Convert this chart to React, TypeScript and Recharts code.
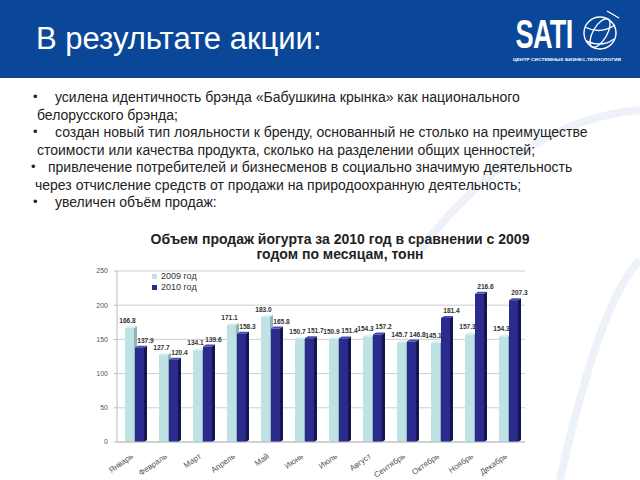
import React from 'react';
import {
  BarChart,
  Bar,
  XAxis,
  YAxis,
  CartesianGrid,
  Legend,
  LabelList,
} from 'recharts';

const months = [
  'Январь', 'Февраль', 'Март', 'Апрель', 'Май', 'Июнь',
  'Июль', 'Август', 'Сентябрь', 'Октябрь', 'Ноябрь', 'Декабрь',
];
const sales2009 = [166.8, 127.7, 134.1, 171.1, 183.0, 150.7, 150.9, 154.3, 145.7, 145.1, 157.3, 154.3];
const sales2010 = [137.9, 120.4, 139.6, 158.3, 165.8, 151.7, 151.4, 157.2, 146.8, 181.4, 216.6, 207.3];
const yTicks = [0, 50, 100, 150, 200, 250];

const bullets = [
  { bx: 33, lines: [
    { x: 55, text: 'усилена идентичность брэнда «Бабушкина крынка» как национального' },
    { x: 37, text: 'белорусского брэнда;' },
  ] },
  { bx: 33, lines: [
    { x: 55, text: 'создан новый тип лояльности к бренду, основанный не столько на преимуществе' },
    { x: 37, text: 'стоимости или качества продукта, сколько на разделении общих ценностей;' },
  ] },
  { bx: 31, lines: [
    { x: 48, text: 'привлечение потребителей и бизнесменов в социально значимую деятельность' },
    { x: 35, text: 'через отчисление средств от продажи на природоохранную деятельность;' },
  ] },
  { bx: 33, lines: [
    { x: 55, text: 'увеличен объём продаж:' },
  ] },
];

const data = months.map((m, i) => ({ month: m, y2009: sales2009[i], y2010: sales2010[i] }));

const FONT = '"Liberation Sans", Arial, sans-serif';

// bar with a little fake depth on the right and top, like the old excel 3d columns
function Bar3D(props: any) {
  const { x, y, width, height, front, side, top } = props;
  if (height <= 0) return null;
  const d = 3;
  const r = 2;
  return (
    <g>
      <path d={`M${x + width},${y} l${d},${-r} v${height} l${-d},${r} z`} fill={side} />
      <path d={`M${x},${y} l${d},${-r} h${width} l${-d},${r} z`} fill={top} />
      <rect x={x} y={y} width={width} height={height} fill={front} />
    </g>
  );
}

const valueLabel = (dx: number) => (props: any) => {
  const { x, y, width, value } = props;
  return (
    <text
      x={x + width / 2 + dx}
      y={y - 5}
      textAnchor="middle"
      fontSize={6.6}
      fontWeight="bold"
      fill="#333"
      fontFamily={FONT}
    >
      {Number(value).toFixed(1)}
    </text>
  );
};

function MonthTick(props: any) {
  const { x, y, payload } = props;
  const tx = x - 2;
  const ty = y + 5;
  return (
    <text
      x={tx}
      y={ty}
      dy={3}
      textAnchor="end"
      fontSize={8}
      fill="#555"
      fontFamily={FONT}
      transform={`rotate(-35 ${tx} ${ty})`}
    >
      {payload.value}
    </text>
  );
}

function Logo() {
  return (
    <svg width={125} height={70} style={{ position: 'absolute', left: 508, top: 8 }}>
      <text
        x={11}
        y={40}
        fontFamily={FONT}
        fontWeight="bold"
        fontSize={40}
        fill="#fff"
        transform="scale(0.68 1)"
        letterSpacing={-1}
      >
        SATI
      </text>
      <g fill="none" stroke="#fff" strokeWidth={1.4}>
        <circle cx={92} cy={25} r={16} />
        <ellipse cx={92} cy={25} rx={7} ry={16} transform="rotate(30 92 25)" />
        <path d="M77 19 Q92 27 107 17" />
        <path d="M78 33 Q94 40 106 31" />
        <path d="M99 3 L111 10" />
      </g>
      <text x={5} y={53} fontFamily={FONT} fontWeight="bold" fontSize={4.4} fill="#fff" textLength={108} lengthAdjust="spacingAndGlyphs">
        ЦЕНТР СИСТЕМНЫХ БИЗНЕС-ТЕХНОЛОГИЙ
      </text>
    </svg>
  );
}

export default function App() {
  let lineY = 88;
  return (
    <div
      style={{
        position: 'absolute',
        left: 0,
        top: 0,
        width: 640,
        height: 480,
        overflow: 'hidden',
        background: '#fff',
        fontFamily: FONT,
      }}
    >
      <svg width={640} height={480} style={{ position: 'absolute', left: 0, top: 0 }}>
        <g fill="none" stroke="#edf2f9" strokeWidth={8}>
          <path d="M420 250 Q520 120 640 110" />
          <path d="M560 480 Q600 300 640 260" />
        </g>
      </svg>

      <div style={{ position: 'absolute', left: 0, top: 0, width: 640, height: 78, background: '#0b4799' }} />
      <div
        style={{
          position: 'absolute',
          left: 36,
          top: 22,
          fontSize: 31,
          color: '#fff',
          whiteSpace: 'nowrap',
          lineHeight: '34px',
        }}
      >
        В результате акции:
      </div>
      <Logo />

      {bullets.map((b, bi) =>
        b.lines.map((ln, li) => {
          const top = lineY;
          lineY += 17.5;
          return (
            <React.Fragment key={`${bi}-${li}`}>
              {li === 0 && (
                <div style={{ position: 'absolute', left: b.bx, top, fontSize: 13, color: '#222', lineHeight: '18px' }}>
                  •
                </div>
              )}
              <div
                style={{
                  position: 'absolute',
                  left: ln.x,
                  top,
                  fontSize: 14,
                  color: '#222',
                  whiteSpace: 'nowrap',
                  lineHeight: '18px',
                }}
              >
                {ln.text}
              </div>
            </React.Fragment>
          );
        })
      )}

      <div
        style={{
          position: 'absolute',
          left: 130,
          top: 232,
          width: 420,
          textAlign: 'center',
          fontSize: 14,
          fontWeight: 'bold',
          color: '#222',
          lineHeight: '15px',
        }}
      >
        Объем продаж йогурта за 2010 год в сравнении с 2009
        <br />
        годом по месяцам, тонн
      </div>

      <div style={{ position: 'absolute', left: 80, top: 262 }}>
        <BarChart
          width={480}
          height={218}
          data={data}
          margin={{ top: 9, right: 35, left: 0, bottom: 0 }}
          barGap={1}
          barCategoryGap="20%"
        >
          <CartesianGrid vertical={false} stroke="#cfcfcf" />
          <XAxis
            dataKey="month"
            height={38}
            interval={0}
            tick={<MonthTick />}
            tickLine={false}
            axisLine={{ stroke: '#bbb' }}
          />
          <YAxis
            width={37}
            domain={[0, 250]}
            ticks={yTicks}
            tickSize={3}
            tickMargin={6}
            tick={{ fontSize: 7, fill: '#555', fontFamily: FONT }}
            axisLine={{ stroke: '#bbb' }}
            tickLine={{ stroke: '#bbb' }}
          />
          <Legend
            layout="vertical"
            align="center"
            verticalAlign="middle"
            iconType="square"
            iconSize={5}
            wrapperStyle={{ left: 72, top: 9, width: 'auto', fontSize: 9, lineHeight: '11px' }}
            formatter={(v: string) => <span style={{ color: '#333', fontFamily: FONT }}>{v}</span>}
          />
          <Bar
            dataKey="y2009"
            name="2009 год"
            fill="#bfe3e4"
            barSize={9}
            isAnimationActive={false}
            shape={<Bar3D front="#bfe3e4" side="#8fb5b7" top="#dff2f2" />}
          >
            <LabelList dataKey="y2009" content={valueLabel(-2)} />
          </Bar>
          <Bar
            dataKey="y2010"
            name="2010 год"
            fill="#2b2b8e"
            barSize={9}
            isAnimationActive={false}
            shape={<Bar3D front="#2b2b8e" side="#15154f" top="#4a4ab3" />}
          >
            <LabelList dataKey="y2010" content={valueLabel(6)} />
          </Bar>
        </BarChart>
      </div>
    </div>
  );
}
